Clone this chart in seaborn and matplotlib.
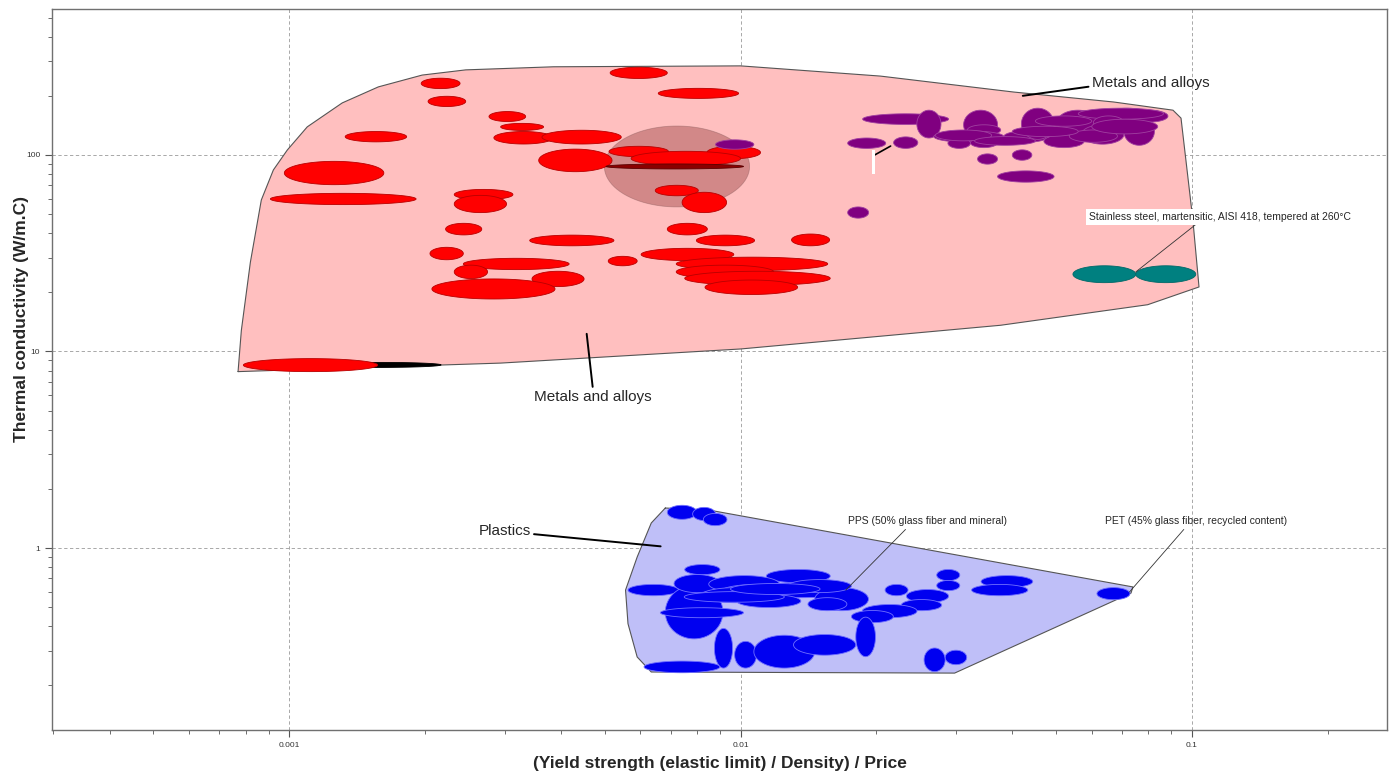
import numpy as np
import matplotlib
matplotlib.use("Agg")
import matplotlib.pyplot as plt
from matplotlib.ticker import FuncFormatter, LogLocator, NullFormatter
import seaborn as sns

# ranges of each material: x = (yield strength / density) / price, y = thermal conductivity
# metals and alloys (red)
red_xlo = [0.00196, 0.00203, 0.00277, 0.00294, 0.00284, 0.00363, 0.00133, 0.00514, 0.00657, 0.00357,
           0.000975, 0.000908, 0.00232, 0.00232, 0.00222, 0.00341, 0.00205, 0.00243, 0.00232, 0.00345,
           0.00207, 0.00509, 0.00602, 0.00688, 0.00798, 0.00647, 0.00742, 0.01297, 0.0072, 0.0072,
           0.00752, 0.00834, 0.00511, 0.00842, 0.00572, 0.000791]
red_xhi = [0.00239, 0.00246, 0.00334, 0.00366, 0.00384, 0.00544, 0.00182, 0.00688, 0.0099, 0.00519,
           0.00162, 0.00191, 0.00313, 0.00303, 0.00267, 0.00524, 0.00243, 0.00417, 0.00275, 0.0045,
           0.00388, 0.0059, 0.00966, 0.00844, 0.01074, 0.00806, 0.00931, 0.01575, 0.0156, 0.01184,
           0.0158, 0.01338, 0.00692, 0.01107, 0.0100, 0.00157]
red_ylo = [217.6, 176.4, 148, 133.3, 113.7, 113.7, 116.6, 245, 194, 82.2,
           70.6, 55.9, 59.2, 50.9, 39.2, 34.5, 29.3, 26.1, 23.5, 21.4,
           18.5, 27.3, 29.0, 39.2, 34.5, 62, 50.9, 34.5, 25.8, 23.5,
           21.7, 19.5, 98, 95.7, 88.2, 7.9]
red_yhi = [245.8, 198.9, 166.3, 144.8, 131.6, 133.6, 131.6, 279.5, 218.3, 107.1,
           92.8, 63.8, 66.8, 62.3, 44.9, 39.1, 33.9, 29.8, 27.5, 25.6,
           23.4, 30.5, 33.5, 44.9, 39.1, 70.1, 64.6, 39.6, 30.2, 27.5,
           25.6, 23.1, 110.7, 110.7, 104.4, 9.2]

# dark red and black metals, selected grade region (grey)
dark_range = [0.00503, 0.01015, 84.9, 90]
black_range = [0.00117, 0.00217, 8.3, 8.8]
grey_range = [0.00499, 0.01047, 54.4, 140.4]

# purple metals
pur_xlo = [0.01864, 0.02458, 0.01727, 0.02183, 0.0312, 0.0318, 0.0268, 0.0288, 0.0323, 0.0383,
           0.0419, 0.0504, 0.047, 0.0569, 0.0638, 0.0707, 0.0732, 0.056, 0.0335, 0.040,
           0.0371, 0.0535, 0.0605, 0.01727, 0.0088, 0.0270, 0.0400, 0.0600, 0.0450, 0.0330]
pur_xhi = [0.0289, 0.0278, 0.02097, 0.0247, 0.0371, 0.0377, 0.0383, 0.0323, 0.0371, 0.048,
           0.0495, 0.062, 0.0577, 0.0707, 0.0812, 0.0826, 0.0885, 0.0865, 0.0371, 0.0442,
           0.0495, 0.0684, 0.0707, 0.01922, 0.0107, 0.0360, 0.0560, 0.0840, 0.0600, 0.0450]
pur_ylo = [143, 122, 108, 108, 120, 126, 116, 108, 109, 116,
           120, 130, 109, 113.5, 143, 112, 147, 152, 89.8, 94,
           72.7, 116, 135, 47.7, 107, 118, 124, 128, 140, 112]
pur_yhi = [162, 169, 122, 123.6, 169, 142.4, 132.6, 122, 122, 132.6,
           173, 169, 126.6, 142.4, 173, 155, 169, 173, 101.3, 106.2,
           83, 134, 158, 54.4, 119.4, 134, 140, 152, 158, 124]

# stainless steel, martensitic, AISI 418 (teal)
teal_xlo = [0.0545, 0.0751]
teal_xhi = [0.0751, 0.102]
teal_ylo = [22.4, 22.4]
teal_yhi = [27.3, 27.3]

# plastics (blue)
blue_xlo = [0.00688, 0.00783, 0.00827, 0.00752, 0.00563, 0.0114, 0.0209, 0.0272, 0.0272, 0.0341,
            0.0325, 0.0233, 0.0227, 0.0186, 0.0176, 0.0180, 0.0255, 0.0284, 0.0616, 0.00611,
            0.00875, 0.0097, 0.0107, 0.0131, 0.00681, 0.00664, 0.00712, 0.0085, 0.0090, 0.00819,
            0.0105, 0.0146, 0.0127, 0.0141, 0.0098, 0.0075, 0.0095]
blue_xhi = [0.0080, 0.0088, 0.00933, 0.0090, 0.00729, 0.0158, 0.0235, 0.0306, 0.0306, 0.0444,
            0.0433, 0.0289, 0.0279, 0.0246, 0.0218, 0.0199, 0.0284, 0.0317, 0.0729, 0.0090,
            0.0096, 0.01085, 0.0146, 0.0180, 0.00914, 0.01015, 0.0090, 0.0122, 0.0131, 0.0117,
            0.0176, 0.0192, 0.0176, 0.0172, 0.0136, 0.0125, 0.0150]
blue_ylo = [1.40, 1.38, 1.30, 0.732, 0.572, 0.666, 0.572, 0.682, 0.607, 0.629,
            0.572, 0.527, 0.480, 0.442, 0.417, 0.28, 0.235, 0.255, 0.546, 0.232,
            0.245, 0.245, 0.245, 0.285, 0.345, 0.442, 0.593, 0.593, 0.546, 0.527,
            0.559, 0.480, 0.593, 0.480, 0.498, 0.53, 0.58]
blue_yhi = [1.65, 1.61, 1.50, 0.824, 0.653, 0.778, 0.653, 0.778, 0.684, 0.724,
            0.653, 0.615, 0.547, 0.516, 0.481, 0.445, 0.31, 0.302, 0.629, 0.266,
            0.39, 0.335, 0.36, 0.363, 0.645, 0.497, 0.733, 0.724, 0.653, 0.629,
            0.667, 0.629, 0.691, 0.559, 0.58, 0.60, 0.66]

# family envelopes
metal_env_x = [0.00077, 0.000783, 0.00082, 0.000867, 0.000922, 0.00099, 0.001096, 0.00131, 0.001575,
               0.00197, 0.00246, 0.00385, 0.0100, 0.0204, 0.0403, 0.0671, 0.0908, 0.0946, 0.097,
               0.1005, 0.1037, 0.0798, 0.0377, 0.0100, 0.00294]
metal_env_y = [7.9, 12.8, 28.5, 59.0, 83.9, 106, 139, 184, 222,
               255, 271, 281, 284, 252, 209, 186, 169, 154, 94,
               46.7, 21.3, 17.3, 13.6, 10.3, 8.73]
plastic_env_x = [0.00681, 0.0085, 0.074, 0.0733, 0.0298, 0.00634, 0.0059, 0.00563, 0.00556, 0.0059, 0.00634]
plastic_env_y = [1.598, 1.561, 0.634, 0.590, 0.231, 0.234, 0.279, 0.412, 0.611, 0.90, 1.341]

sns.set_style("ticks")
plt.rcParams['font.family'] = ['Liberation Sans', 'DejaVu Sans']

fig = plt.figure(figsize=(13.96, 7.76), dpi=100)
ax = fig.add_axes([52 / 1396, 1 - 730 / 776, 1335 / 1396, 721 / 776])
ax.set_xscale('log')
ax.set_yscale('log')
ax.set_xlim(2.98e-4, 0.2706)
ax.set_ylim(0.1186, 553)


def draw_ranges(xlo, xhi, ylo, yhi, face, edge, lw=0.6, alpha=1.0, z=3):
    t = np.linspace(0, 2 * np.pi, 90)
    for a, b, c, d in zip(xlo, xhi, ylo, yhi):
        cx, rx = (np.log10(a) + np.log10(b)) / 2, (np.log10(b) - np.log10(a)) / 2
        cy, ry = (np.log10(c) + np.log10(d)) / 2, (np.log10(d) - np.log10(c)) / 2
        ax.fill(10 ** (cx + rx * np.cos(t)), 10 ** (cy + ry * np.sin(t)),
                facecolor=face, edgecolor=edge, lw=lw, alpha=alpha, zorder=z)


# envelopes
for ex, ey, col in [(metal_env_x, metal_env_y, '#FFBFBF'), (plastic_env_x, plastic_env_y, '#BFBFF8')]:
    ax.fill(ex, ey, facecolor=col, edgecolor='none', zorder=1)
    sns.lineplot(x=ex + ex[:1], y=ey + ey[:1], sort=False, estimator=None,
                 color='#555555', lw=0.8, ax=ax, zorder=2)

draw_ranges([grey_range[0]], [grey_range[1]], [grey_range[2]], [grey_range[3]],
            '#8B3030', '#7a5050', lw=0.6, alpha=0.38, z=2.5)
draw_ranges([black_range[0]], [black_range[1]], [black_range[2]], [black_range[3]], 'black', 'black', z=3)
draw_ranges(red_xlo, red_xhi, red_ylo, red_yhi, '#FF0000', '#B80000', z=3)
draw_ranges([dark_range[0]], [dark_range[1]], [dark_range[2]], [dark_range[3]], '#8B0000', '#5a0000', z=3.2)
draw_ranges(pur_xlo, pur_xhi, pur_ylo, pur_yhi, '#800080', '#A040A0', z=3.3)
draw_ranges(teal_xlo, teal_xhi, teal_ylo, teal_yhi, '#008080', '#006868', z=3.3)
draw_ranges(blue_xlo, blue_xhi, blue_ylo, blue_yhi, '#0000F0', '#7070FF', z=3.3)

# axes styling
ax.grid(which='major', ls=(0, (4, 3)), color='#9a9a9a', lw=0.6, zorder=0)
ax.set_axisbelow(True)
ax.xaxis.set_major_locator(LogLocator(base=10))
ax.yaxis.set_major_locator(LogLocator(base=10))
ax.xaxis.set_minor_locator(LogLocator(base=10, subs=np.arange(2, 10)))
ax.yaxis.set_minor_locator(LogLocator(base=10, subs=np.arange(2, 10)))
fmt = FuncFormatter(lambda v, p: f'{v:g}')
ax.xaxis.set_major_formatter(fmt)
ax.yaxis.set_major_formatter(fmt)
ax.xaxis.set_minor_formatter(NullFormatter())
ax.yaxis.set_minor_formatter(NullFormatter())
ax.tick_params(which='major', length=5, width=0.8, labelsize=6, colors='#555555', labelcolor='#333333')
ax.tick_params(which='minor', length=3, width=0.6, colors='#555555')
for s in ax.spines.values():
    s.set_color('#707070')
    s.set_linewidth(1.0)

lab_font = dict(fontsize=12.5, fontweight='bold')
ax.set_xlabel('(Yield strength (elastic limit) / Density) / Price', labelpad=5, **lab_font)
ax.set_ylabel('Thermal conductivity (W/m.C)', **lab_font)
ax.yaxis.set_label_coords(-0.017, 0.57)

# labels
line = dict(arrowstyle='-', color='black', lw=1.4, shrinkA=0, shrinkB=0)
thin = dict(arrowstyle='-', color='#333333', lw=0.6, shrinkA=0, shrinkB=0)
ax.annotate('Metals and alloys', xy=(0.0422, 200), xytext=(0.06, 233), ha='left', va='center',
            fontsize=11, zorder=6, arrowprops=dict(line, relpos=(0, 0.25)))
ax.annotate('Metals and alloys', xy=(0.00456, 12.3), xytext=(0.00471, 5.86), ha='center', va='center',
            fontsize=11, zorder=6, arrowprops=dict(line, relpos=(0.5, 1)))
ax.annotate('Plastics', xy=(0.00665, 1.02), xytext=(0.0030, 1.22), ha='center', va='center',
            fontsize=11, zorder=6, arrowprops=dict(line, relpos=(1, 0.3)))
ax.annotate('Stainless steel, martensitic, AISI 418, tempered at 260°C', xy=(0.0751, 25.4),
            xytext=(0.1153, 48.3), ha='center', va='center', fontsize=7.5, zorder=6,
            bbox=dict(boxstyle='square,pad=0.25', fc='white', ec='none'),
            arrowprops=dict(thin, relpos=(0.42, 0)))
ax.annotate('PPS (50% glass fiber and mineral)', xy=(0.0171, 0.611), xytext=(0.026, 1.37),
            ha='center', va='center', fontsize=7.5, zorder=6, arrowprops=dict(thin, relpos=(0.38, 0)))
ax.annotate('PET (45% glass fiber, recycled content)', xy=(0.0727, 0.597), xytext=(0.102, 1.37),
            ha='center', va='center', fontsize=7.5, zorder=6, arrowprops=dict(thin, relpos=(0.45, 0)))
ax.annotate(' \n \n ', xy=(0.0215, 111), xytext=(0.0197, 92.1), ha='center', va='center',
            fontsize=5, zorder=6, bbox=dict(boxstyle='square,pad=0.05', fc='white', ec='none'),
            arrowprops=dict(line, lw=1.2, relpos=(1, 0.8)))

fig.savefig('out.png', dpi=100)
